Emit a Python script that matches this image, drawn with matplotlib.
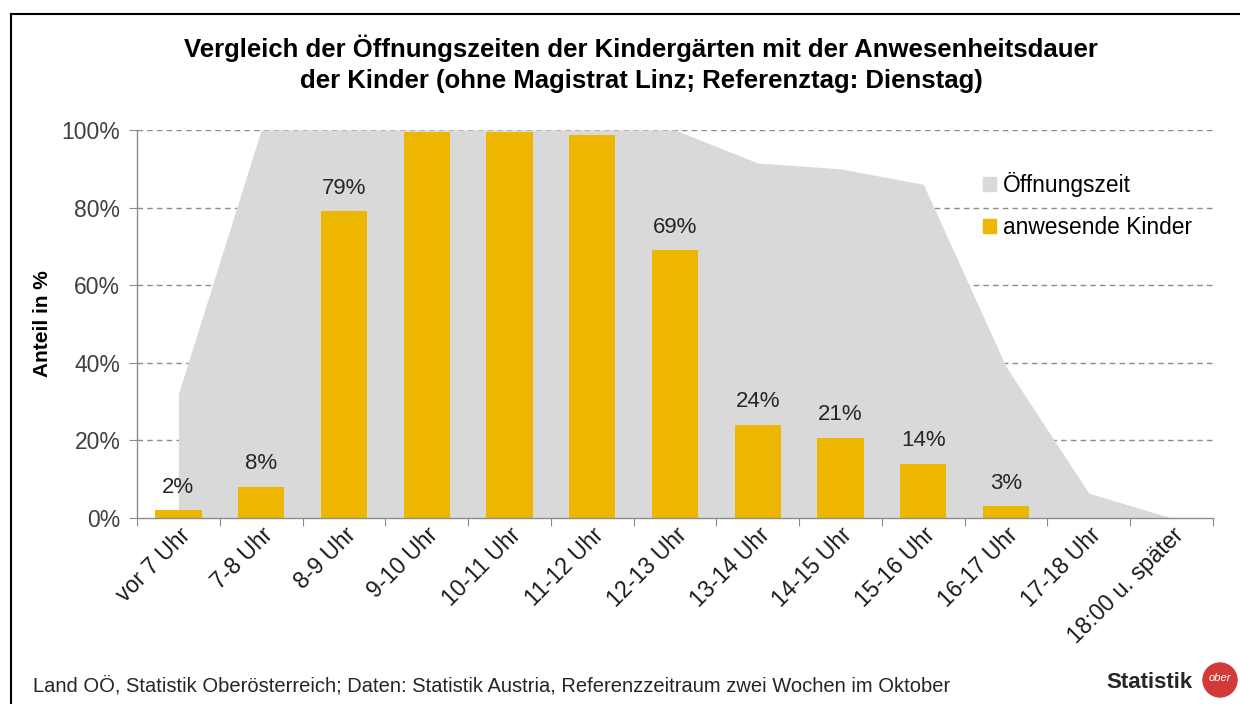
import matplotlib
matplotlib.use("Agg")
import matplotlib.pyplot as plt
from matplotlib.patches import Patch, Circle
from matplotlib.lines import Line2D

categories = ["vor 7 Uhr", "7-8 Uhr", "8-9 Uhr", "9-10 Uhr", "10-11 Uhr", "11-12 Uhr",
              "12-13 Uhr", "13-14 Uhr", "14-15 Uhr", "15-16 Uhr", "16-17 Uhr",
              "17-18 Uhr", "18:00 u. später"]
oeffnungszeit = [32, 100, 100, 100, 100, 100, 100, 91.5, 90, 86, 39, 6.4, 0]
anwesende_kinder = [2, 8, 79, 99.5, 99.5, 98.8, 69, 24, 20.7, 14, 3, 0, 0]
bar_labels = ["2%", "8%", "79%", "", "", "", "69%", "24%", "21%", "14%", "3%", "", ""]
yticks = [0, 20, 40, 60, 80, 100]
ytick_labels = ["0%", "20%", "40%", "60%", "80%", "100%"]

plt.rcParams['font.family'] = ['Liberation Sans', 'DejaVu Sans']

W, H = 1240, 704
fig = plt.figure(figsize=(W / 100, H / 100), dpi=100)
ax = fig.add_axes([137 / W, 1 - 518 / H, (1213 - 137) / W, (518 - 130) / H])

x = list(range(len(categories)))
grey = "#D9D9D9"
gold = "#EDB600"

for yt in yticks[1:]:
    ax.axhline(yt, color="#8C8C8C", linestyle=(0, (4, 3)), linewidth=1, zorder=0)

ax.fill_between(x, 0, oeffnungszeit, color=grey, linewidth=0, zorder=1)
ax.bar(x, anwesende_kinder, width=0.56, color=gold, zorder=2)

for xi, v, lab in zip(x, anwesende_kinder, bar_labels):
    if lab:
        ax.annotate(lab, (xi, v), xytext=(0, 9), textcoords="offset points",
                    ha="center", va="bottom", fontsize=16, color="#262626")

ax.set_xlim(-0.5, len(categories) - 0.5)
ax.set_ylim(0, 100)
ax.set_yticks(yticks)
ax.set_yticklabels(ytick_labels, fontsize=16.5, color="#404040")
ax.set_xticks([i - 0.5 for i in range(len(categories) + 1)])
ax.set_xticklabels([])
ax.set_xticks(x, minor=True)
ax.set_xticklabels(categories, minor=True, rotation=45, ha="right",
                   rotation_mode="anchor", fontsize=16.5, color="#1a1a1a")
ax.tick_params(axis="x", which="minor", length=0, pad=4)
ax.tick_params(axis="x", which="major", length=6, color="#8C8C8C")
ax.tick_params(axis="y", length=6, color="#8C8C8C", pad=6)

for s in ["top", "right"]:
    ax.spines[s].set_visible(False)
for s in ["left", "bottom"]:
    ax.spines[s].set_color("#8C8C8C")
    ax.spines[s].set_linewidth(1)

ax.set_ylabel("Anteil in %", fontsize=15, fontweight="bold", labelpad=7)

handles = [Patch(color=grey, label="Öffnungszeit"), Patch(color=gold, label="anwesende Kinder")]
ax.legend(handles=handles, loc="upper left", bbox_to_anchor=(0.767, 0.945), frameon=False,
          fontsize=16.4, handlelength=0.6, handleheight=0.6, handletextpad=0.3,
          labelspacing=0.85)

fig.text(641 / W, 1 - 64 / H, "Vergleich der Öffnungszeiten der Kindergärten mit der Anwesenheitsdauer\n"
         "der Kinder (ohne Magistrat Linz; Referenztag: Dienstag)",
         ha="center", va="center", fontsize=18.5, fontweight="bold", linespacing=1.35)

fig.text(33 / W, 1 - 686 / H,
         "Land OÖ, Statistik Oberösterreich; Daten: Statistik Austria, Referenzzeitraum zwei Wochen im Oktober",
         ha="left", va="center", fontsize=14.5, color="#262626")

fig.text(1192 / W, 1 - 682 / H, "Statistik", ha="right", va="center", fontsize=16,
         fontweight="bold", color="#262626")
circ = Circle((12.20, (H - 680) / 100), 0.17, transform=fig.dpi_scale_trans, color="#D23A3A",
              zorder=5)
fig.patches.append(circ)
fig.text(1220 / W, 1 - 678 / H, "ober", ha="center", va="center", fontsize=8,
         color="white", style="italic", zorder=6)

fig.add_artist(Line2D([11 / W, 11 / W], [0, 1 - 14 / H], transform=fig.transFigure,
                      color="black", linewidth=1.5))
fig.add_artist(Line2D([11 / W, 1], [1 - 14 / H, 1 - 14 / H], transform=fig.transFigure,
                      color="black", linewidth=1.5))

fig.savefig("out.png", dpi=100)
